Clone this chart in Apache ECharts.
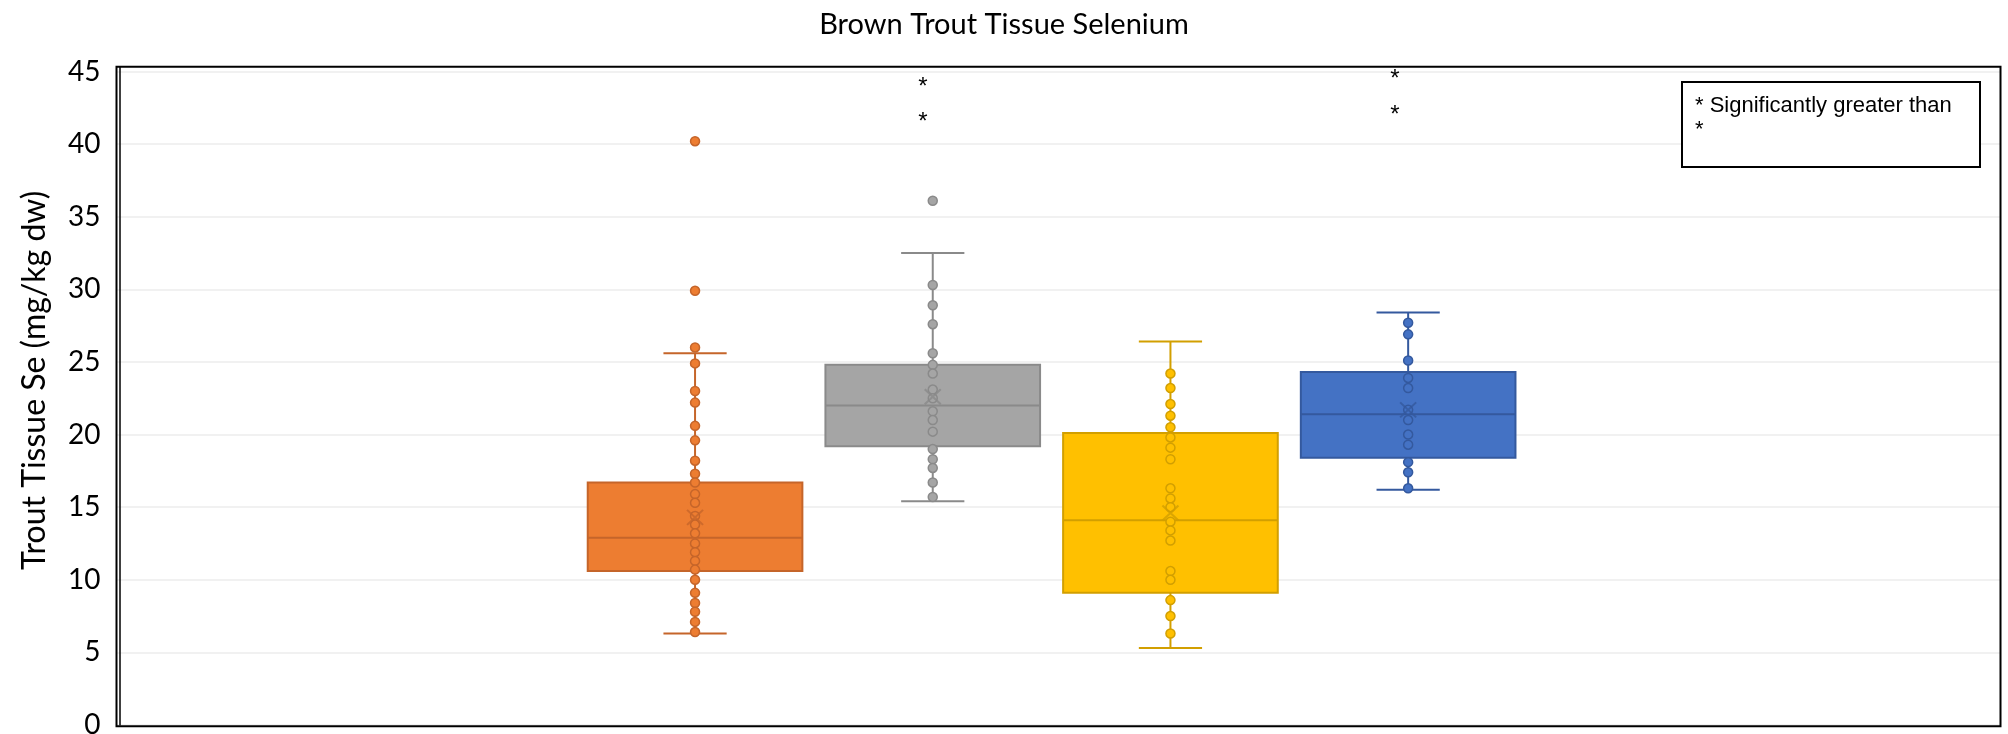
<!DOCTYPE html>
<html>
<head>
<meta charset="utf-8">
<script src="https://cdn.jsdelivr.net/npm/echarts@6/dist/echarts.min.js"></script>
<style>
  html, body { margin: 0; padding: 0; background: #fff; overflow: hidden; }
  #chart { width: 2008px; height: 734px; }
</style>
</head>
<body>
<div id="chart"></div>
<script>
// Groups along the (unlabelled) horizontal axis
const categories = ['1', '2', '3', '4'];

// Five-number summaries per group (mg/kg dw)
const whiskerLow  = [6.3, 15.4, 5.3, 16.2];
const quartile1   = [10.6, 19.2, 9.1, 18.4];
const medians     = [12.9, 22.0, 14.1, 21.4];
const quartile3   = [16.7, 24.8, 20.1, 24.3];
const whiskerHigh = [25.6, 32.5, 26.4, 28.4];
const means       = [14.3, 22.6, 14.6, 21.7];

// Individual fish values per group (inner points and outliers)
const points1 = [40.2, 29.9, 26.0, 24.9, 23.0, 22.2, 20.6, 19.6, 18.2, 17.3, 16.7, 15.9, 15.3, 14.4, 13.8, 13.2, 12.5, 11.9, 11.3, 10.7, 10.0, 9.1, 8.4, 7.8, 7.1, 6.4];
const points2 = [36.1, 30.3, 28.9, 27.6, 25.6, 24.8, 24.2, 23.1, 22.5, 21.6, 21.0, 20.2, 19.0, 18.3, 17.7, 16.7, 15.7];
const points3 = [24.2, 23.2, 22.1, 21.3, 20.5, 19.8, 19.1, 18.3, 16.3, 15.6, 15.0, 14.0, 13.4, 12.7, 10.6, 10.0, 8.6, 7.5, 6.3];
const points4 = [27.7, 26.9, 25.1, 23.9, 23.2, 21.7, 21.0, 20.0, 19.3, 18.1, 17.4, 16.3];

// Y axis ticks
const yMin = 0, yMax = 45, yStep = 5;

// Styling per group
const fills   = ['#ED7D31', '#A5A5A5', '#FFC000', '#4472C4'];
const strokes = ['#C5652A', '#8A8A8A', '#D29F00', '#34599E'];

const allPoints = [points1, points2, points3, points4];
const boxData = categories.map((c, i) =>
  [i, whiskerLow[i], quartile1[i], medians[i], quartile3[i], whiskerHigh[i]]);

const GRID_TOP = 71.5, GRID_BOTTOM = 9;
const BOX_RATIO = 0.903, CAP_RATIO = 0.266;

function renderBox(params, api) {
  const i = api.value(0);
  const band = api.size([1, 0])[0];
  const cx = api.coord([i, 0])[0];
  const half = band * BOX_RATIO / 2;
  const cap = band * CAP_RATIO / 2;
  const yLo = api.coord([i, api.value(1)])[1];
  const yQ1 = api.coord([i, api.value(2)])[1];
  const yMd = api.coord([i, api.value(3)])[1];
  const yQ3 = api.coord([i, api.value(4)])[1];
  const yHi = api.coord([i, api.value(5)])[1];
  const line = { stroke: strokes[i], lineWidth: 2 };
  return {
    type: 'group',
    children: [
      { type: 'line', shape: { x1: cx, y1: yHi, x2: cx, y2: yQ3 }, style: line },
      { type: 'line', shape: { x1: cx, y1: yQ1, x2: cx, y2: yLo }, style: line },
      { type: 'line', shape: { x1: cx - cap, y1: yHi, x2: cx + cap, y2: yHi }, style: line },
      { type: 'line', shape: { x1: cx - cap, y1: yLo, x2: cx + cap, y2: yLo }, style: line },
      { type: 'rect', shape: { x: cx - half, y: yQ3, width: half * 2, height: yQ1 - yQ3 },
        style: { fill: fills[i], stroke: strokes[i], lineWidth: 2 } },
      { type: 'line', shape: { x1: cx - half, y1: yMd, x2: cx + half, y2: yMd }, style: line }
    ]
  };
}

const pointSeries = allPoints.map((vals, i) => ({
  type: 'scatter',
  xAxisIndex: 1, yAxisIndex: 1,
  symbol: 'circle',
  symbolSize: 9,
  z: 3,
  itemStyle: { color: fills[i], borderColor: strokes[i], borderWidth: 1.5, opacity: 1 },
  data: vals.map(v => [i, v])
}));

const starStyle = { fontFamily: 'Liberation Sans', fontSize: 24, fill: '#000', textAlign: 'center', textVerticalAlign: 'top', text: '*' };

const chart = echarts.init(document.getElementById('chart'), null, { renderer: 'canvas', width: 2008, height: 734 });
chart.setOption({
  animation: false,
  backgroundColor: '#ffffff',
  title: {
    text: 'Brown Trout Tissue Selenium',
    left: 'center',
    top: 5,
    textStyle: { fontFamily: 'Lato', fontSize: 29, fontWeight: 'normal', color: '#000' }
  },
  grid: [
    { left: 116.5, right: 7, top: GRID_TOP, bottom: GRID_BOTTOM, containLabel: false, outerBoundsMode: 'none' },
    { left: 576.2, width: 950.8, top: GRID_TOP, bottom: GRID_BOTTOM, containLabel: false, outerBoundsMode: 'none' }
  ],
  xAxis: [
    { gridIndex: 0, type: 'value', min: 0, max: 1, show: false },
    { gridIndex: 1, type: 'category', data: categories, show: false, boundaryGap: true }
  ],
  yAxis: [
    {
      gridIndex: 0, type: 'value', min: yMin, max: yMax, interval: yStep,
      name: 'Trout Tissue Se (mg/kg dw)',
      nameLocation: 'middle',
      nameGap: 66,
      nameTextStyle: { fontFamily: 'Lato', fontSize: 32, color: '#000', padding: [0, 0, 0, 36] },
      axisLine: { show: false },
      axisTick: { show: false },
      axisLabel: { fontFamily: 'Lato', fontSize: 28, color: '#000', margin: 16 },
      splitLine: { show: true, lineStyle: { color: '#EDEDED', width: 1.5 } }
    },
    { gridIndex: 1, type: 'value', min: yMin, max: yMax, show: false }
  ],
  series: [
    {
      type: 'custom',
      xAxisIndex: 1, yAxisIndex: 1,
      z: 2,
      renderItem: renderBox,
      encode: { x: 0, y: [1, 2, 3, 4, 5] },
      data: boxData
    },
    ...pointSeries,
    {
      type: 'scatter',
      xAxisIndex: 1, yAxisIndex: 1,
      z: 4,
      symbol: 'path://M0,0L10,10M10,0L0,10',
      symbolSize: [16, 15],
      itemStyle: { color: 'rgba(0,0,0,0)', borderWidth: 2 },
      data: means.map((m, i) => ({ value: [i, m], itemStyle: { borderColor: strokes[i] } }))
    }
  ],
  graphic: [
    // plot frame
    { type: 'rect', z: 10, silent: true,
      shape: { x: 116.5, y: 66.7, width: 1884, height: 659.5 },
      style: { fill: 'none', stroke: '#000', lineWidth: 2 } },
    { type: 'line', z: 10, silent: true,
      shape: { x1: 120, y1: 67, x2: 120, y2: 725.5 },
      style: { stroke: '#000', lineWidth: 1.5 } },
    // significance marks
    { type: 'text', z: 10, style: Object.assign({ x: 923, y: 75 }, starStyle) },
    { type: 'text', z: 10, style: Object.assign({ x: 923, y: 110 }, starStyle) },
    { type: 'text', z: 10, style: Object.assign({ x: 1395, y: 67 }, starStyle) },
    { type: 'text', z: 10, style: Object.assign({ x: 1395, y: 103 }, starStyle) },
    // note box
    { type: 'rect', z: 10, silent: true,
      shape: { x: 1682, y: 82, width: 298, height: 85 },
      style: { fill: '#fff', stroke: '#000', lineWidth: 2 } },
    { type: 'text', z: 11,
      style: { x: 1695, y: 94, text: '* Significantly greater than\n*', fontFamily: 'Liberation Sans', fontSize: 22, lineHeight: 24, fill: '#000', textAlign: 'left', textVerticalAlign: 'top' } }
  ]
});
</script>
</body>
</html>
